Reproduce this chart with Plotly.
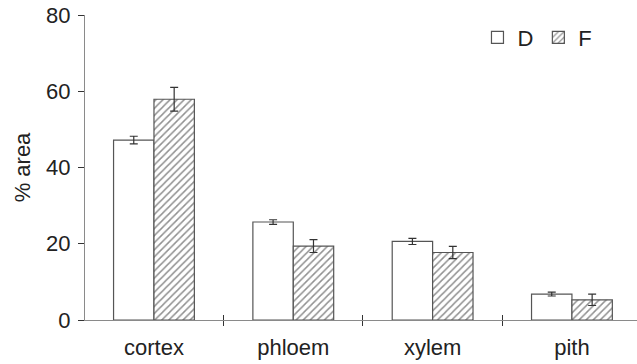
import plotly.graph_objects as go

categories = ["cortex", "phloem", "xylem", "pith"]
d_values = [47.2, 25.7, 20.6, 6.8]
d_errors = [1.0, 0.6, 0.8, 0.5]
f_values = [57.9, 19.4, 17.7, 5.3]
f_errors = [3.1, 1.7, 1.6, 1.5]
y_ticks = [0, 20, 40, 60, 80]
cat_pos = list(range(len(categories)))
sep_pos = [i + 0.5 for i in range(len(categories) - 1)]

FONT = "Liberation Sans, Arial, Helvetica, sans-serif"
AX = "#8a8a8a"

fig = go.Figure()
fig.add_trace(go.Bar(
    x=cat_pos, y=d_values, name="D",
    marker=dict(color="white", line=dict(color="#555555", width=1.2)),
    error_y=dict(type="data", array=d_errors, color="#333333", thickness=1.2, width=4),
))
fig.add_trace(go.Bar(
    x=cat_pos, y=f_values, name="F",
    marker=dict(color="white", line=dict(color="#555555", width=1.2),
                pattern=dict(shape="/", fgcolor="#222222", bgcolor="white", size=5, solidity=0.3)),
    error_y=dict(type="data", array=f_errors, color="#333333", thickness=1.2, width=4),
))
# dummy trace to attach the overlay axis carrying the inward tick marks
fig.add_trace(go.Scatter(x=[None], y=[None], xaxis="x2", showlegend=False, hoverinfo="skip"))

xr = [-0.495, 3.467]
fig.update_layout(
    width=637, height=364,
    margin=dict(l=85, r=0, t=15, b=44),
    paper_bgcolor="white", plot_bgcolor="white",
    font=dict(family=FONT, size=22, color="#222222"),
    barmode="group", bargap=0.42, bargroupgap=0,
    showlegend=True,
    legend=dict(orientation="h", x=0.711, y=0.995, xanchor="left", yanchor="top",
                bgcolor="rgba(0,0,0,0)", font=dict(size=22), itemwidth=30),
    xaxis=dict(range=xr, tickmode="array", tickvals=cat_pos, ticktext=categories,
               ticks="", showline=True, linecolor=AX, linewidth=1.2, showgrid=False,
               zeroline=False, ticklabelstandoff=7,
               minor=dict(tickmode="array", tickvals=sep_pos, ticks="outside",
                          ticklen=5, tickcolor="#333333", tickwidth=1.2, showgrid=False)),
    xaxis2=dict(range=xr, overlaying="x", anchor="y", side="bottom", tickmode="array",
                tickvals=sep_pos, ticks="inside", ticklen=5, tickcolor="#333333",
                tickwidth=1.2, showticklabels=False, showline=False, showgrid=False,
                zeroline=False),
    yaxis=dict(range=[0, 80], tickmode="array", tickvals=y_ticks, ticks="outside",
               ticklen=6, tickcolor="#333333", tickwidth=1.2, showline=True,
               linecolor=AX, linewidth=1.2, showgrid=False, zeroline=False,
               ticklabelstandoff=3,
               title=dict(text="% area", standoff=9, font=dict(size=22))),
)

fig.write_html("out.html")
